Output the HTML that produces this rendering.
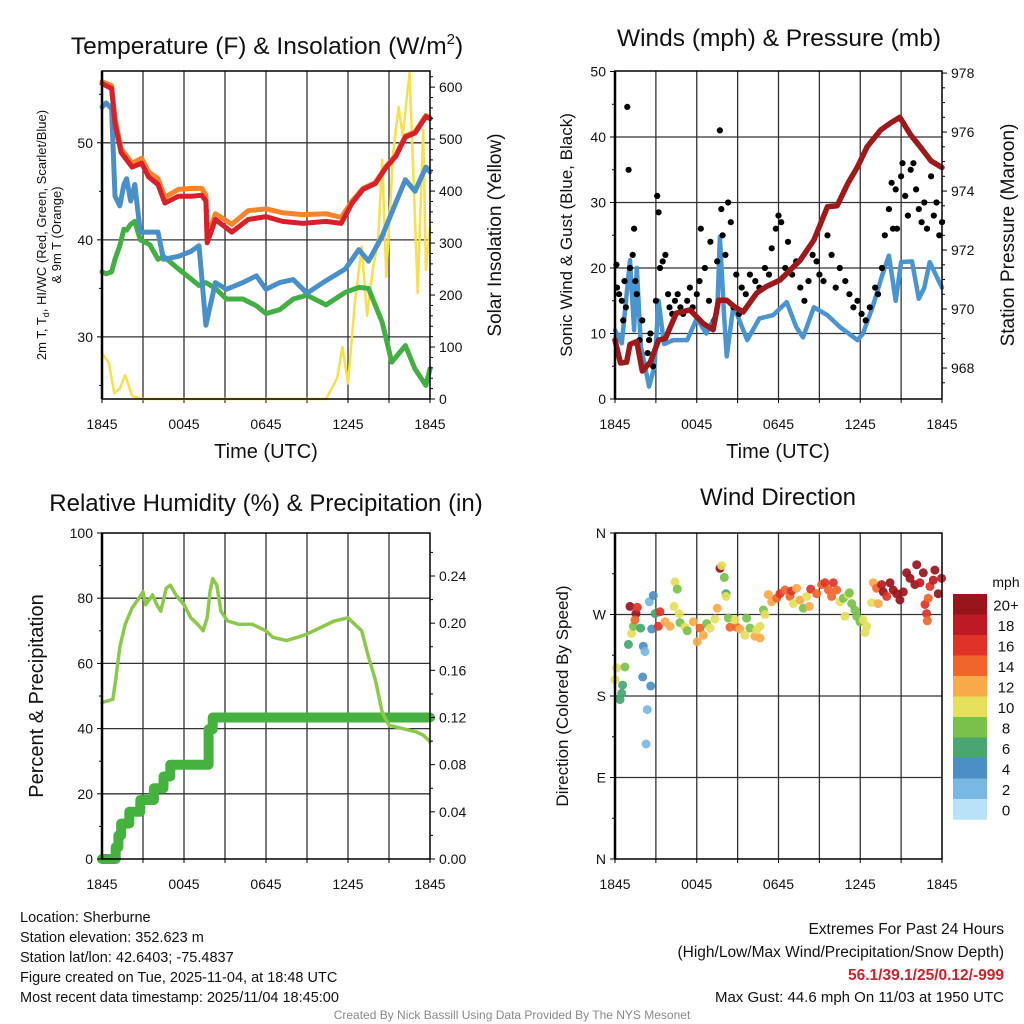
<!DOCTYPE html>
<html><head><meta charset="utf-8"><title>Sherburne Meteogram</title>
<style>
html,body{margin:0;padding:0;background:#fff;}
svg{display:block;font-family:"Liberation Sans",Arial,sans-serif;}
</style></head>
<body>
<svg id="chart" width="1024" height="1024" viewBox="0 0 1024 1024" xmlns="http://www.w3.org/2000/svg">
<rect x="0" y="0" width="1024" height="1024" fill="#fff"/>
</svg>
<script>
// ---------- data ----------
const xTickLabels = ["1845","0045","0645","1245","1845"];
// panel 1 temperatures (hours since 1845, deg F)
const tempHours = [0,0.7,0.95,1.4,2.2,2.9,3.4,4.1,4.6,5.6,6.6,7.3,7.6,7.7,8.3,9.5,10.7,12,13.2,14.7,16.4,17.5,18.3,19.1,20,20.8,21.5,22.2,22.9,23.7,24];
const tempRed =   [56.1,55.6,52.0,49.0,47.5,47.9,46.5,45.7,43.8,44.5,44.5,44.6,44.0,39.7,42.1,40.8,42.1,42.4,41.9,41.7,41.9,41.7,43.8,45.2,45.8,47.5,48.6,50.6,51.0,52.7,52.5];
const tempOrange= [56.3,55.9,52.5,49.4,47.9,48.4,47.0,46.3,44.4,45.2,45.3,45.3,44.6,40.2,42.7,41.6,43.0,43.2,42.8,42.6,42.7,42.3,44.0,45.3,45.9,47.6,48.7,50.7,51.1,52.8,52.6];
const dewHours = [0,0.3,0.7,0.95,1.3,1.6,1.8,2.1,2.4,2.8,3.5,4.1,4.5,5.6,6.5,7.1,7.6,8.3,9.1,10.3,11.3,12,13,14,15,16.4,17.8,18.8,19.5,20.5,21.2,22.2,22.9,23.7,24];
const dewGreen = [36.7,36.5,36.7,38.0,39.4,41.1,41.0,41.6,41.9,40.0,39.5,38.0,38.3,37.0,36.0,35.3,35.6,35.0,33.9,33.9,33.2,32.4,32.8,33.9,34.3,33.3,34.6,35.1,35.0,31.5,27.4,29.1,26.7,25.0,26.7];
const hiBlue =   [53.7,54.1,53.5,44.5,43.5,45.7,46.3,44.0,45.7,40.8,40.8,40.8,38.0,38.3,38.8,39.4,31.2,35.6,34.9,35.6,36.3,34.9,35.6,35.9,34.5,35.8,37.0,39.0,37.8,40.4,42.8,46.2,45.0,47.5,47.0];
const solarHours = [0,0.5,0.9,1.3,1.7,2.2,2.9,16.4,17.2,17.6,18,18.5,19,19.4,19.8,20.2,20.5,20.8,21.3,21.7,22,22.5,22.8,23.1,23.5,23.7,24];
const solarVals  = [88,70,11,20,46,6,0,0,40,100,30,185,293,160,248,305,460,235,473,562,506,627,420,204,518,248,330];
// panel 2 winds & pressure
const windHours = [0,0.5,1.1,1.4,1.6,1.9,2.5,2.9,3.2,3.6,4.3,5.3,6,6.7,7.5,7.7,8,8.2,8.7,9.7,10.6,11.6,12.6,13.3,13.8,14.6,15.6,16.5,17.8,18.2,18.9,19.6,20.1,20.6,21,21.8,22.3,22.7,23.1,24];
const windBlue  = [10.5,8.5,21.2,10.5,20,8,1.9,5,15,8.4,9,9,12.3,10,13.2,24.8,13,6.5,14.3,9,12.3,12.8,14.8,11,9.4,14,12.8,11,9,10,14,18.8,21.9,15,20.9,21,15.3,17,20.9,17];
const presHours = [0,0.4,0.85,1.1,1.6,2,2.6,3.2,3.7,4.5,5.5,6.5,7.2,7.6,8.2,8.7,9.4,10.4,11.1,12.1,13.6,14.6,15.6,16.3,17.1,17.8,18.5,19.5,20.2,20.9,21.7,22.4,23.2,24];
const presVals  = [968.95,968.17,968.2,968.8,968.9,967.9,968.2,968.95,969.0,969.86,969.97,969.5,969.3,970.3,970.3,970.1,969.9,970.54,970.76,970.98,971.66,972.34,973.47,973.5,974.27,974.82,975.5,976.07,976.3,976.5,975.9,975.5,975.02,974.8];
const gustHours = [0.1,0.15,0.3,0.5,0.6,0.7,0.8,0.9,1.0,1.1,1.3,1.4,1.5,1.6,1.8,2.0,2.4,2.5,2.6,2.8,3.0,3.1,3.2,3.3,3.5,3.7,3.9,4.0,4.2,4.4,4.6,4.8,5.0,5.3,5.5,5.7,6.0,6.2,6.3,6.6,6.9,7.0,7.3,7.5,7.7,7.8,7.9,8.1,8.3,8.5,8.7,8.9,9.1,9.3,9.6,9.9,10.3,10.6,11.0,11.3,11.5,11.8,12.0,12.2,12.5,12.7,13.0,13.3,13.6,13.9,14.2,14.5,14.8,15.0,15.3,15.6,15.9,16.2,16.5,16.9,17.2,17.5,17.8,18.1,18.4,18.7,19.1,19.3,19.6,19.8,20.1,20.3,20.4,20.6,20.7,21.0,21.1,21.3,21.5,21.7,21.9,22.1,22.3,22.5,22.7,22.9,23.2,23.4,23.6,23.8,24];
const gustVals  = [20.5,17,16,15,12,18,14,44.6,35,20,22,26,18,16,9,12,7,9,10,5,15,31,28.5,20,21,22,16,14,13,15,16,14,13,15,17,14,16,18,26,20,15,24,12,21,41,29,25,22,30,27,14,19,13,17,16,19,18,17,20,19,23,26,28,27,20,24,19,21,17,15,18,22,21,19,18,25,22,17,20,18,16,14,15,13,12,14,17,16,20,25,29,33,26,32,26,34,36,31,28,35,36,32,29,27,30,26,34,28,30,25,27];
// panel 3 humidity & precip
const rhHours = [0,0.8,1,1.3,1.7,2.2,2.7,3.0,3.2,3.7,4,4.3,4.7,5,5.4,6,6.5,7,7.4,7.7,7.9,8.1,8.4,8.7,9.2,10,11,12,12.5,13.5,14.3,15,16,17,18,18.5,19,19.5,20,20.5,21,22,23,23.5,24];
const rhVals  = [48,49,55,65,72,77,80,82,78,81,78,76,83,84,81,78,74,72,70,74,82,86,84,76,73,72,72,70,68,67,68,69,71,73,74,72,70,62,55,45,41,40,39,38,36];
const pcpHours = [0,0.9,1.0,1.2,1.4,1.7,2.0,2.5,2.8,3.0,3.5,3.8,4.2,4.5,5.0,7.7,7.8,8.1,24];
const pcpVals  = [0,0,0.01,0.02,0.03,0.03,0.04,0.04,0.05,0.05,0.05,0.06,0.06,0.07,0.08,0.08,0.11,0.12,0.12];
// panel 4 wind direction scatter
const dirHours = [0,0.12,0.37,0.49,0.56,0.73,0.98,1.22,1.35,1.1,1.54,1.47,1.64,1.88,2.08,2.2,2.03,2.37,2.28,2.62,2.52,2.81,2.69,2.94,3.18,3.3,3.67,4.04,4.4,4.57,4.33,4.72,4.77,5.14,5.31,5.75,6.24,6.04,6.48,6.73,6.97,7.34,7.51,7.71,7.83,8.02,8.15,8.15,8.32,8.44,8.93,8.81,9.17,9.54,9.66,9.91,10.27,10.64,10.4,10.64,10.89,11.01,11.25,11.5,11.86,12.11,12.48,12.84,12.96,13.09,13.33,13.58,13.82,14.07,14.26,14.36,14.8,15.17,15.41,15.66,15.9,16.02,16.27,16.51,16.76,17.12,17.2,17.37,17.61,17.73,16.88,17.98,18.22,18.47,18.35,18.83,18.96,19.2,19.32,19.57,19.69,19.94,20.18,20.42,20.67,20.91,21.16,21.4,21.65,22.01,22.14,22.38,22.63,22.75,22.87,22.92,22.99,23.12,23.36,23.48,23.73,23.97];
const dirDeg = [198,211,176,183,192,212,237,249,257,279,271,264,278,255,235,229,201,165,127,191,284,291,254,271,257,273,262,257,306,298,279,271,261,256,252,262,255,240,247,260,255,265,277,321,324,311,293,290,266,256,256,264,254,247,266,255,246,244,253,257,275,270,292,284,288,293,297,290,296,282,299,286,277,290,279,298,293,303,305,297,290,305,297,284,288,292,294,282,275,268,268,262,264,257,250,283,305,299,282,303,295,290,305,297,293,286,295,316,310,303,325,305,316,281,271,263,288,301,308,319,293,310];
const dirSpeed = [10,10,7,6,6,9,6,10,9,20,20,14,17,6,4,2,5,2,2,4,3,4,4,7,16,17,12,12,10,8,10,10,8,10,9,12,14,13,12,8,10,10,12,20,10,8,6,10,8,14,14,10,13,10,8,8,12,12,10,10,8,10,12,12,15,16,14,14,16,10,13,12,8,11,12,16,14,14,16,15,14,17,14,10,8,10,8,8,8,8,10,8,10,10,10,10,12,14,12,18,20,17,20,20,20,20,20,20,20,20,20,18,20,17,17,14,14,17,18,20,20,18];
const speedBins = ["0","2","4","6","8","10","12","14","16","18","20+"];
const binColors = ["#b8e3f7","#7ab8e4","#4a8fc6","#47a671","#7ac14c","#e5e05a","#f8a949","#f06529","#df3328","#be1a24","#98141b"];

// ---------- helpers ----------
const NS="http://www.w3.org/2000/svg";
const svg=document.getElementById('chart');
function mk(tag,attrs,parent,text){const e=document.createElementNS(NS,tag);for(const k in attrs)e.setAttribute(k,attrs[k]);if(text!==undefined)e.textContent=text;(parent||svg).appendChild(e);return e;}
function lin(d0,d1,r0,r1){return v=>r0+(v-d0)*(r1-r0)/(d1-d0);}
function pathOf(xs,ys,fx,fy){return xs.map((x,i)=>(i?'L':'M')+fx(x).toFixed(1)+','+fy(ys[i]).toFixed(1)).join(' ');}

function frame(name,L,R,T,B,fx){
  const g=mk('g',{});
  
  
  for(let h=3;h<24;h+=3){
    const gl=mk('line',{x1:fx(h),x2:fx(h),y1:T,y2:B,stroke:'#333',"stroke-width":1.3},g);
    
    
  }
  for(let h=0;h<=24;h+=3){
    const t=mk('line',{x1:fx(h),x2:fx(h),y1:B,y2:B+4,stroke:'#000',"stroke-width":1},g);
    
    
  }
  xTickLabels.forEach((s,i)=>{
    const t=mk('text',{x:fx(i*6),y:B+30,"font-size":14,"text-anchor":"middle",fill:'#111'},g,s);
    
    
  });
  return g;
}
function border(L,R,T,B){
  const r=mk('rect',{x:L,y:T,width:R-L,height:B-T,fill:'none',stroke:'#000',"stroke-width":1.5});
  
  
  const a=mk('line',{x1:L,x2:L,y1:T,y2:B,stroke:'#000',"stroke-width":2.5});
  
  
}
function hgrid(vals,fy,L,R){
  vals.forEach(v=>{
    const l=mk('line',{x1:L,x2:R,y1:fy(v),y2:fy(v),stroke:'#333',"stroke-width":1.3});
    
    
  });
}
function yTicks(vals,labels,fy,x,side,minor){
  const dir=side==='left'?-1:1;
  vals.forEach((v,i)=>{
    const t=mk('line',{x1:x,x2:x+dir*5,y1:fy(v),y2:fy(v),stroke:'#000',"stroke-width":1});
    
    
    const tx=mk('text',{x:x+dir*9,y:fy(v)+5,"font-size":14,"text-anchor":side==='left'?'end':'start',fill:'#111'},svg,labels[i]);
    
    
  });
  (minor||[]).forEach(v=>{
    const t=mk('line',{x1:x,x2:x+dir*3,y1:fy(v),y2:fy(v),stroke:'#000',"stroke-width":1});
    
    
  });
}
function label(txt,x,y,size,rot,name,anchor){
  const t=mk('text',{x:x,y:y,"font-size":size,"text-anchor":anchor||'middle',fill:'#111',transform:rot?`rotate(${rot} ${x} ${y})`:''},svg,txt);
  
  
  return t;
}
function line(xs,ys,fx,fy,color,w,name){
  const p=mk('path',{d:pathOf(xs,ys,fx,fy),fill:'none',stroke:color,"stroke-width":w,"stroke-linejoin":'round',"stroke-linecap":'round'});
  
  
}

// ---------- panel 1 ----------
{
const L=102,R=430,T=71,B=399;
const fx=lin(0,24,L,R), fy=lin(23.6,57.4,B,T), fs=lin(0,631,B,T);
frame('temperature-panel',L,R,T,B,fx);
hgrid([30,40,50],fy,L,R);
line(solarHours,solarVals,fx,fs,'#f7df4e',2.5,'solar-insolation-line');
line(dewHours,dewGreen,fx,fy,'#42ae44',5,'dewpoint-line');
line(dewHours,hiBlue,fx,fy,'#4a90c8',5,'heat-index-windchill-line');
line(tempHours,tempOrange,fx,fy,'#f5842c',5,'temp-9m-line');
line(tempHours,tempRed,fx,fy,'#d7202a',5,'temp-2m-line');
border(L,R,T,B);
yTicks([30,40,50],['30','40','50'],fy,L,'left',[25,35,45,55]);
const rv=[0,100,200,300,400,500,600];
yTicks(rv,rv.map(String),fs,R,'right',[20,40,60,80,120,140,160,180,220,240,260,280,320,340,360,380,420,440,460,480,520,540,560,580,620]);
const t=label('Temperature (F) & Insolation (W/m',267,54,24.5,0,'temperature-panel-title');
const sup=mk('tspan',{"font-size":15,dy:-10},t,'2');


const cl=mk('tspan',{"font-size":24.5,dy:10},t,')');


label('Time (UTC)',266,458,20,0,'x-axis-title');
const yl=label('2m T, T',0,0,13,0,'left-y-axis-title');
yl.setAttribute('transform','translate(46,235) rotate(-90)');
const sub=mk('tspan',{"font-size":9,dy:3},yl,'d');


const rest=mk('tspan',{dy:-3},yl,', HI/WC (Red, Green, Scarlet/Blue)');


const yl2=label('& 9m T (Orange)',0,0,13,0,'left-y-axis-title-line2');
yl2.setAttribute('transform','translate(61,235) rotate(-90)');
label('Solar Insolation (Yellow)',501,235,19,-90,'right-y-axis-title');
}

// ---------- panel 2 ----------
{
const L=615,R=942,T=71,B=399;
const fx=lin(0,24,L,R), fy=lin(0,50,B,71.5), fp=lin(966.95,978.07,B,T);
frame('wind-panel',L,R,T,B,fx);
hgrid([10,20,30,40],fy,L,R);
line(windHours,windBlue,fx,fy,'#4a94d0',4.5,'sonic-wind-line');
gustHours.forEach((h,i)=>{
  const c=mk('circle',{cx:fx(h).toFixed(1),cy:fy(gustVals[i]).toFixed(1),r:3.1,fill:'#000'});
  
  
});
line(presHours,presVals,fx,fp,'#9c1a1c',5.5,'pressure-line');
border(L,R,T,B);
yTicks([0,10,20,30,40,50],['0','10','20','30','40','50'],fy,L,'left',[5,15,25,35,45]);
const pv=[968,970,972,974,976,978];
yTicks(pv,pv.map(String),fp,R,'right',[967.5,968.5,969,969.5,970.5,971,971.5,972.5,973,973.5,974.5,975,975.5,976.5,977,977.5]);
label('Winds (mph) & Pressure (mb)',779,46,24.5,0,'wind-panel-title');
label('Time (UTC)',778,458,20,0,'x-axis-title');
label('Sonic Wind & Gust (Blue, Black)',572,235,17,-90,'left-y-axis-title');
label('Station Pressure (Maroon)',1014,235,19,-90,'right-y-axis-title');
}

// ---------- panel 3 ----------
{
const L=102,R=430,T=533,B=859;
const fx=lin(0,24,L,R), fy=lin(0,100,B,T), fq=lin(0,0.24,B,576);
frame('humidity-panel',L,R,T,B,fx);
hgrid([20,40,60,80],fy,L,R);
const pd=[];pcpHours.forEach((h,i)=>{if(i>0)pd.push('L'+fx(h).toFixed(1)+','+fq(pcpVals[i-1]).toFixed(1));pd.push((i?'L':'M')+fx(h).toFixed(1)+','+fq(pcpVals[i]).toFixed(1));});
const pp=mk('path',{d:pd.join(' '),fill:'none',stroke:'#45b23f',"stroke-width":10,"stroke-linejoin":'round',"stroke-linecap":'round'});


line(rhHours,rhVals,fx,fy,'#8cc84b',3.5,'relative-humidity-line');
border(L,R,T,B);
yTicks([0,20,40,60,80,100],['0','20','40','60','80','100'],fy,L,'left',[10,30,50,70,90]);
const qv=[0,0.04,0.08,0.12,0.16,0.20,0.24];
yTicks(qv,qv.map(v=>v.toFixed(2)),fq,R,'right',[0.02,0.06,0.10,0.14,0.18,0.22,0.26]);
label('Relative Humidity (%) & Precipitation (in)',266,511,24,0,'humidity-panel-title');
label('Percent & Precipitation',43,696,20,-90,'left-y-axis-title');
}

// ---------- panel 4 ----------
{
const L=615,R=942,T=533,B=859;
const fx=lin(0,24,L,R), fy=lin(0,360,B,T);
frame('wind-direction-panel',L,R,T,B,fx);
hgrid([90,180,270],fy,L,R);
dirHours.forEach((h,i)=>{
  const s=dirSpeed[i]; const bin=Math.min(10,Math.floor(s/2));
  const c=mk('circle',{cx:fx(h).toFixed(1),cy:fy(dirDeg[i]).toFixed(1),r:4.5,fill:binColors[bin],"fill-opacity":0.92});
  
  
});
border(L,R,T,B);
yTicks([0,90,180,270,360],['N','E','S','W','N'],fy,L,'left',[45,135,225,315]);
label('Wind Direction',778,505,24,0,'wind-direction-panel-title');
label('Direction (Colored By Speed)',568,696,17,-90,'left-y-axis-title');
const cb=mk('g',{});


const cbTop=594,bh=20.5;
speedBins.forEach((lab,i)=>{
  const y=cbTop+i*bh;
  const r=mk('rect',{x:953,y:y,width:34,height:bh+0.3,fill:binColors[10-i]},cb);
  
  
  const t=mk('text',{x:1006,y:y+bh/2+6,"font-size":15,"text-anchor":"middle",fill:'#111'},cb,speedBins[10-i]);
  
  
});
label('mph',1006,587,14,0,'colorbar-title');
}

// ---------- footer text ----------
const leftLines=["Location: Sherburne","Station elevation: 352.623 m","Station lat/lon: 42.6403; -75.4837","Figure created on Tue, 2025-11-04, at 18:48 UTC","Most recent data timestamp: 2025/11/04 18:45:00"];
leftLines.forEach((s,i)=>{label(s,20,922+i*20,14.5,0,'station-info-line','start');});
label('Extremes For Past 24 Hours',1004,934,15.5,0,'extremes-title','end');
label('(High/Low/Max Wind/Precipitation/Snow Depth)',1004,957,15.5,0,'extremes-subtitle','end');
const ex=label('56.1/39.1/25/0.12/-999',1004,980,15.5,0,'extremes-values','end');
ex.setAttribute('fill','#d0202a');ex.setAttribute('font-weight','bold');
label('Max Gust: 44.6 mph On 11/03 at 1950 UTC',1004,1002,15,0,'max-gust-text','end');
const cr=label('Created By Nick Bassill Using Data Provided By The NYS Mesonet',512,1019,12,0,'credit-text');
cr.setAttribute('fill','#888');
</script>
</body></html>
